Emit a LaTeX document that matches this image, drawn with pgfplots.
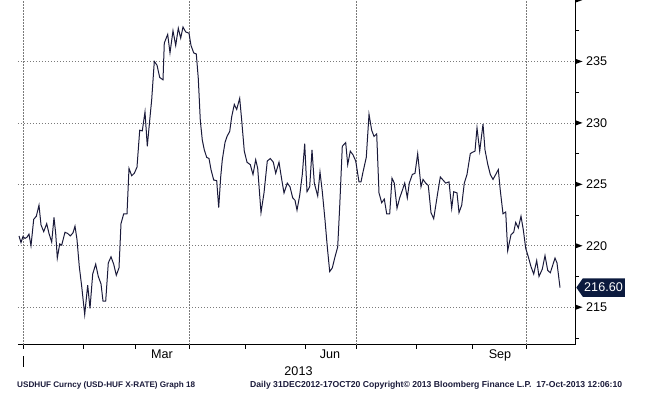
\documentclass[border=0pt]{standalone}
\usepackage{fontspec}
\setmainfont{Liberation Sans}
\usepackage{pgfplots}
\pgfplotsset{compat=1.18}
\usepackage{pgfplotstable}
\definecolor{navy}{HTML}{0B1A3E}
\definecolor{linec}{HTML}{1A1A3A}
\definecolor{gridc}{HTML}{7A7A7A}
\pgfdeclareplotmark{rtri}{\pgfpathmoveto{\pgfqpoint{0pt}{2.8pt}}\pgfpathlineto{\pgfqpoint{7.5pt}{0pt}}\pgfpathlineto{\pgfqpoint{0pt}{-2.8pt}}\pgfpathclose\pgfusepathqfill}

\pgfplotstableread{
x y
19 220.8
21 220.26
23 220.75
25 220.6
27 220.7
29 220.95
31 220.0
33.7 222.15
36.3 222.4
39 223.3
41 221.7
43.7 221.15
46.7 221.8
49 221.0
51.7 220.3
54 222.3
55.7 221.0
57.3 219.0
59.7 220.15
61.7 220.05
65 221.1
67.7 221.0
70.3 220.8
73 221.05
75 221.6
77 220.5
79.3 218.3
81.7 216.7
84.7 214.4
87.7 216.8
90 214.9
92.7 217.7
95.7 218.5
98.3 217.5
101 216.9
103 215.5
105.7 215.5
108.3 218.6
111 219.1
113.7 218.5
116.3 217.6
119 218.2
121 221.8
123.7 222.6
127 222.6
129 226.3
131.7 225.7
134.3 225.9
137 226.4
139.7 229.4
142.3 229.35
145 230.9
147.3 228.1
149.7 230.2
151.7 231.9
154.3 235.0
157 234.7
159.7 233.7
163 233.5
164.3 236.5
167.7 237.2
170 235.7
173 237.5
175.7 236.3
178.3 237.7
180.7 236.9
183 237.8
185.7 237.4
189 237.3
191 236.3
193.7 235.7
196.3 235.6
198.3 233.6
200.3 230.2
202.3 228.6
204.3 227.8
206.7 227.2
209 227.1
211 226.2
213.7 225.35
216.7 225.3
218.7 223.1
220.7 225.6
222.3 227.0
225 228.4
227 228.9
229.7 229.3
231.7 230.5
234.3 231.5
236.7 231.1
239.7 232.0
241.7 230.2
244.3 227.7
247 226.8
250.3 226.6
253 225.8
255.7 227.0
257.7 226.3
261 222.7
264 224.3
267.3 226.9
270.3 227.1
273.3 226.8
275.7 225.9
279 226.8
281.7 225.4
284 224.3
287.3 225.1
290 224.8
292.7 223.9
295 223.7
297 222.9
299.7 224.1
302.3 225.8
304.7 228.3
307 224.4
309.7 224.8
312 227.8
314.3 225.1
317.7 224.05
320 226.0
322.3 224.4
325 222.1
327.3 219.9
329.7 217.9
332.3 218.2
335 219.1
337.7 219.9
339.7 223.2
342.3 228.1
345.7 228.4
347.7 226.6
350.3 227.7
353 227.4
355.7 226.9
359 225.2
361 225.2
363 226.0
366.3 227.2
369 230.7
371.7 229.4
374 228.9
376.7 229.1
379 224.3
381.7 223.5
384.3 223.8
386.7 222.6
389.7 222.6
392 225.5
394.3 225.1
397 223.05
399.7 223.9
402.3 224.5
404.7 225.1
407.3 223.9
409.3 225.1
412.3 225.8
415 225.9
417.7 227.5
421 224.8
423 225.4
425.7 225.1
428.3 224.9
431 222.7
433.7 222.2
437.7 224.3
440.3 225.6
443 225.35
445.7 225.1
449 225.2
451.7 223.05
453.7 224.4
457 224.3
459 222.7
461.7 223.3
464.3 225.1
467 225.8
470.3 227.5
472.3 227.6
475 227.7
477 229.6
479.7 227.7
483 229.9
485 227.8
487.7 226.65
490.3 225.8
493 225.4
495.7 225.8
498.3 226.2
500.3 224.5
503 222.6
505.7 222.75
507.7 219.6
511 220.9
513.7 221.1
515.7 221.9
518.3 221.45
521 222.4
523.3 221.3
525.7 219.8
528.3 219.1
531 218.3
533.7 217.7
536.7 218.8
539 217.5
542.3 218.1
545 219.2
547.7 218.0
550.3 217.8
555 219.0
557 218.6
560 216.6
}\usdhuf

\begin{document}
\begin{tikzpicture}[x=1pt,y=1pt]
\useasboundingbox (0,0) rectangle (645,393);
\begin{axis}[at={(18pt,48.3pt)}, anchor=south west, scale only axis,
  width=557pt, height=344.7pt,
  xmin=18, xmax=575, ymin=211.95, ymax=240,
  axis x line*=bottom, axis y line*=right,
  axis line style={black, line width=0.8pt, -},
  tick align=outside,
  xtick={162,330,500}, xticklabels={Mar,Jun,Sep},
  minor xtick={23.3,83.3,135,189.3,245.7,305.7,356.7,416.7,472.3,526.7},
  extra x ticks={23.3,189.3,356.7,526.7}, extra x tick labels={},
  extra x tick style={grid=major},
  ytick={215,220,225,230,235},
  minor ytick={212.5,217.5,222.5,227.5,232.5,237.5},
  ymajorgrids,
  major grid style={gridc, line width=0.7pt, dash pattern=on 1.3pt off 1.7pt},
  major x tick style={draw=none}, major y tick style={draw=none},
  major tick length=4pt, minor tick length=4pt,
  minor tick style={black, line width=0.8pt},
  tick label style={font=\fontsize{12.6}{14}\selectfont, /pgf/number format/assume math mode=true, text=black},
  yticklabel style={anchor=west, inner sep=0pt, xshift=7pt},
  xticklabel style={anchor=north, inner sep=0pt, yshift=-1.3pt},
  clip=false,
]
\addplot[linec, line width=1pt] table[x=x, y=y] {\usdhuf};
\addplot[only marks, mark=rtri, black] coordinates {(575,215) (575,220) (575,225) (575,230) (575,235) (575,240)};
\coordinate (cv) at (axis cs:575,216.6);
\end{axis}
\fill[navy] ([xshift=1.3pt]cv) -- ++(6.5pt,9.2pt) -- ++(42pt,0pt) -- ++(0pt,-18.4pt) -- ++(-42pt,0pt) -- cycle;
\node[text=white, inner sep=0pt, font=\fontsize{12.6}{14}\selectfont] at ([xshift=28.5pt]cv) {216.60};
\node[font=\fontsize{12.6}{14}\selectfont, inner sep=0pt] at (298.5,22.3) {2013};
\draw[black, line width=0.8pt] (23.3,26) -- (23.3,37);
\node[anchor=west, inner sep=0pt, text=linec] at (17,8) {\resizebox{178pt}{!}{\bfseries USDHUF Curncy (USD-HUF X-RATE) Graph 18}};
\node[anchor=west, inner sep=0pt, text=linec] at (250,8) {\resizebox{372pt}{!}{\bfseries Daily 31DEC2012-17OCT20 Copyright\textcopyright\ 2013 Bloomberg Finance L.P.\ \ 17-Oct-2013 12:06:10}};
\end{tikzpicture}
\end{document}
